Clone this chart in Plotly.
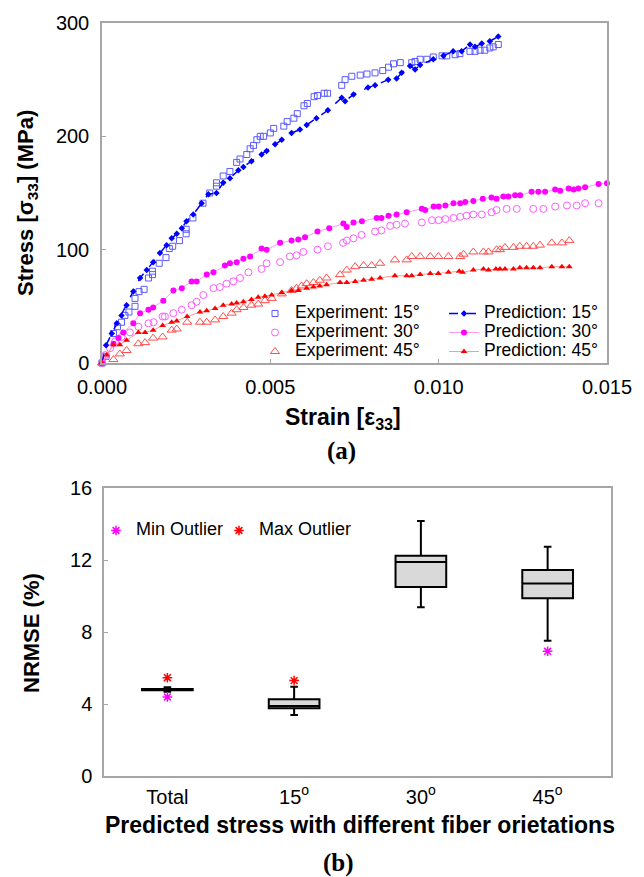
import plotly.graph_objects as go

# ---------------- (a) stress-strain data ----------------
exp15_strain = [0.0, 0.00012, 0.00034, 0.00046, 0.00058, 0.00068, 0.0008, 0.00098, 0.00098, 0.0011, 0.00125,
                0.00138, 0.0015, 0.0015, 0.0017, 0.0019, 0.002, 0.0021, 0.0023, 0.0025, 0.0025, 0.0027, 0.003,
                0.0032, 0.0034, 0.0034, 0.0036, 0.0038, 0.004, 0.0041, 0.0043, 0.0044, 0.0045, 0.0046, 0.0047,
                0.0048, 0.005, 0.0051, 0.0054, 0.0055, 0.0057, 0.0058, 0.006, 0.0061, 0.0063, 0.0064, 0.0066,
                0.0067, 0.00712, 0.00722, 0.00742, 0.00767, 0.00787, 0.00811, 0.00834, 0.00851, 0.00866, 0.00886,
                0.0092, 0.0093, 0.00945, 0.00965, 0.00984, 0.0101, 0.01024, 0.01049, 0.01063, 0.01093, 0.01108,
                0.01123, 0.01137, 0.01152, 0.01162, 0.01177]
exp15_stress = [0, 5.9, 26, 32, 36, 42, 45, 50, 57, 63, 65, 75, 78, 81, 88, 93, 101, 103, 108, 114, 118, 128, 141,
                150, 156, 159, 165, 169, 177, 180, 184, 189, 192, 197, 200, 200, 203, 207, 209, 213, 216, 220, 227,
                229, 235, 236, 238, 238, 245, 250, 253, 254, 255, 256, 258, 261, 264, 265, 265, 266, 268, 268, 270,
                271, 271, 272, 273, 275, 275, 276, 276, 278, 279, 281]

pred15_strain = [0.0, 0.00012, 0.00029, 0.00044, 0.00058, 0.00073, 0.00093, 0.00113, 0.00133, 0.00152, 0.00172,
                 0.00192, 0.00207, 0.00222, 0.00237, 0.00251, 0.00271, 0.00296, 0.00316, 0.0034, 0.0036, 0.0038,
                 0.00405, 0.0042, 0.00444, 0.00474, 0.00489, 0.00514, 0.00534, 0.00563, 0.00588, 0.00608, 0.00637,
                 0.00671, 0.00712, 0.00722, 0.00747, 0.0079, 0.00811, 0.0085, 0.00875, 0.0089, 0.00915, 0.0093,
                 0.00945, 0.00984, 0.01014, 0.01043, 0.01068, 0.01093, 0.01108, 0.01128, 0.01152, 0.01177]
pred15_stress = [0, 15.6, 26, 35, 42, 51, 63, 75, 82, 89, 97, 104, 110, 114, 119, 125, 131, 141, 149, 150, 159, 163,
                 170, 173, 178, 184, 187, 193, 197, 203, 206, 210, 216, 223, 234, 231, 237, 243, 245, 250, 251, 256,
                 262, 259, 263, 268, 271, 275, 275, 281, 279, 282, 284, 288]

exp30_strain = [0.0, 0.0001, 0.00024, 0.00039, 0.00058, 0.00083, 0.00108, 0.00138, 0.00153, 0.0018, 0.00187,
                0.00212, 0.00237, 0.00266, 0.00281, 0.00301, 0.00331, 0.0035, 0.0037, 0.0039, 0.0041, 0.00435,
                0.00474, 0.00489, 0.00529, 0.00558, 0.00578, 0.00598, 0.0064, 0.00671, 0.00716, 0.00727, 0.00747,
                0.00771, 0.00811, 0.0083, 0.00856, 0.00875, 0.009, 0.0095, 0.0098, 0.01, 0.0102, 0.01044, 0.01064,
                0.01083, 0.01103, 0.01128, 0.01157, 0.01172, 0.01202, 0.01232, 0.01281, 0.01311, 0.01346, 0.01381,
                0.0141, 0.01435, 0.01475]
exp30_stress = [0, 7, 13, 19, 23, 27, 32, 35, 36, 41, 41, 44, 47, 51, 54, 60, 66, 67, 70, 72, 75, 80, 83, 88, 89,
                94, 95, 98, 100, 103, 106, 108, 110, 113, 116, 117, 121, 122, 123, 124, 126, 126, 127, 128, 129,
                130, 131, 131, 133, 135, 136, 136, 136, 136, 138, 139, 139, 141, 141]

pred30_strain = [0.0, 0.00034, 0.00049, 0.00063, 0.00093, 0.00113, 0.00138, 0.00152, 0.00182, 0.00212, 0.00237,
                 0.00266, 0.00281, 0.00311, 0.00331, 0.00365, 0.0038, 0.004, 0.0042, 0.0044, 0.00474, 0.00489,
                 0.00529, 0.00563, 0.00583, 0.00603, 0.0064, 0.00675, 0.00717, 0.00727, 0.00747, 0.00772, 0.00816,
                 0.0083, 0.00851, 0.00875, 0.00905, 0.0095, 0.0096, 0.00985, 0.01, 0.0102, 0.01044, 0.01064,
                 0.01079, 0.01103, 0.01131, 0.01157, 0.01172, 0.01192, 0.01207, 0.01227, 0.01242, 0.01276, 0.01296,
                 0.01316, 0.01346, 0.01361, 0.01386, 0.01401, 0.01415, 0.01435, 0.01475, 0.015]
pred30_stress = [0, 17, 22, 27, 35, 44, 47, 49, 55, 64, 66, 72, 72, 78, 80, 86, 88, 89, 92, 94, 101, 100, 106,
                 108, 109, 111, 116, 119, 123, 120, 124, 125, 128, 128, 130, 131, 133, 136, 135, 138, 138, 139,
                 141, 141, 142, 143, 145, 146, 145, 147, 147, 148, 148, 151, 151, 151, 153, 152, 154, 153, 154,
                 155, 158, 158.5]

exp45_strain = [0.0, 0.00034, 0.00053, 0.00073, 0.00108, 0.00128, 0.00152, 0.0018, 0.00207, 0.00222, 0.00253,
                0.00291, 0.00311, 0.00336, 0.0036, 0.00385, 0.004, 0.0042, 0.00444, 0.00464, 0.00484, 0.00504,
                0.00534, 0.00563, 0.00578, 0.00593, 0.00608, 0.00628, 0.00647, 0.00667, 0.00707, 0.00727, 0.00752,
                0.00777, 0.00801, 0.00826, 0.0087, 0.00905, 0.0092, 0.00945, 0.00975, 0.00999, 0.01029, 0.01064,
                0.01074, 0.01103, 0.01133, 0.01148, 0.01172, 0.01182, 0.01197, 0.01222, 0.01241, 0.01261, 0.01281,
                0.01301, 0.01336, 0.01366, 0.01388]
exp45_stress = [0, 3, 8, 11, 17, 18, 22, 23, 29, 30, 36, 36, 36, 38, 41, 44, 47, 49, 51, 52, 55, 57, 61, 64, 66,
                68, 70, 71, 73, 75, 78, 82, 85, 86, 86, 88, 91, 91, 94, 94, 94, 94, 94, 94, 96, 98, 98, 98, 100,
                100, 102, 102, 103, 103, 103, 104, 106, 106, 108]

pred45_strain = [0.0, 0.00014, 0.00034, 0.00053, 0.00073, 0.00108, 0.00128, 0.00152, 0.0018, 0.00207, 0.00222,
                 0.00253, 0.00291, 0.00311, 0.00336, 0.0036, 0.00385, 0.004, 0.0042, 0.00444, 0.00464, 0.00484,
                 0.00504, 0.00534, 0.00563, 0.00583, 0.00608, 0.00628, 0.00647, 0.00667, 0.00707, 0.00727, 0.00752,
                 0.00777, 0.00801, 0.00826, 0.0087, 0.00905, 0.0092, 0.00945, 0.00975, 0.00999, 0.01029, 0.01061,
                 0.01071, 0.01103, 0.01133, 0.01148, 0.0117, 0.01182, 0.01197, 0.01222, 0.01241, 0.01261, 0.01281,
                 0.01301, 0.01336, 0.01366, 0.01388]
pred45_stress = [0, 7, 16, 16, 20, 27, 27, 29, 33, 36, 37, 41, 45, 46, 48, 51, 52, 53, 54, 56, 58, 59, 60, 62, 64,
                 64, 66, 67, 68, 69, 71, 71, 72, 73, 74, 75, 77, 77, 77, 78, 79, 79, 80, 81, 80, 82, 83, 82, 83,
                 83, 83, 83, 84, 84, 84, 84, 85, 85, 85]

# ---------------- (b) NRMSE box data ----------------
categories = ["Total", "15<sup>o</sup>", "30<sup>o</sup>", "45<sup>o</sup>"]
box_lower = [4.68, 3.39, 9.37, 7.52]
box_q1 = [4.76, 3.76, 10.50, 9.87]
box_median = [4.80, 3.89, 11.89, 10.69]
box_q3 = [4.83, 4.26, 12.24, 11.44]
box_upper = [4.93, 4.96, 14.17, 12.74]
min_outlier_cat = ["Total", "45<sup>o</sup>"]
min_outlier_val = [4.39, 6.93]
max_outlier_cat = ["Total", "15<sup>o</sup>"]
max_outlier_val = [5.46, 5.30]

W, H = 644, 877
FONT = "Arial, Liberation Sans, sans-serif"
GRID = "#a6a6a6"


def span(t, size=17.5):
    return f'<span style="font-size:{size}px">{t}</span>'


fig = go.Figure()

# experiments (legend 1)
fig.add_trace(go.Scatter(x=exp15_strain, y=exp15_stress, mode="markers", name=span("Experiment: 15°"),
                         marker=dict(symbol="square-open", size=6, color="#5b5bff", line=dict(width=1)),
                         xaxis="x", yaxis="y", legend="legend", cliponaxis=False))
fig.add_trace(go.Scatter(x=exp30_strain, y=exp30_stress, mode="markers", name=span("Experiment: 30°"),
                         marker=dict(symbol="circle-open", size=7, color="#ff5cff", line=dict(width=1)),
                         xaxis="x", yaxis="y", legend="legend", cliponaxis=False))
fig.add_trace(go.Scatter(x=exp45_strain, y=exp45_stress, mode="markers", name=span("Experiment: 45°"),
                         marker=dict(symbol="triangle-up-open", size=8, color="#ff4d4d", line=dict(width=1)),
                         xaxis="x", yaxis="y", legend="legend", cliponaxis=False))
# predictions (legend 2)
fig.add_trace(go.Scatter(x=pred15_strain, y=pred15_stress, mode="lines+markers", name=span("Prediction: 15°"),
                         line=dict(color="#0000ff", width=1.5, dash="dash"),
                         marker=dict(symbol="diamond", size=5, color="#0000ff"),
                         xaxis="x", yaxis="y", legend="legend2", cliponaxis=False))
fig.add_trace(go.Scatter(x=pred30_strain, y=pred30_stress, mode="lines+markers", name=span("Prediction: 30°"),
                         line=dict(color="#ff80ff", width=0.8),
                         marker=dict(symbol="circle", size=6, color="#ff00ff"),
                         xaxis="x", yaxis="y", legend="legend2", cliponaxis=False))
fig.add_trace(go.Scatter(x=pred45_strain, y=pred45_stress, mode="lines+markers", name=span("Prediction: 45°"),
                         line=dict(color="#ff8080", width=0.8),
                         marker=dict(symbol="triangle-up", size=6, color="#ff0000"),
                         xaxis="x", yaxis="y", legend="legend2", cliponaxis=False))

# boxes
for i, c in enumerate(categories):
    fig.add_trace(go.Box(x=[c], q1=[box_q1[i]], median=[box_median[i]], q3=[box_q3[i]],
                         lowerfence=[box_lower[i]], upperfence=[box_upper[i]],
                         fillcolor="#d9d9d9", line=dict(color="#000000", width=2),
                         width=0.4, whiskerwidth=0.15, boxpoints=False, showlegend=False,
                         xaxis="x2", yaxis="y2"))

fig.add_trace(go.Scatter(x=min_outlier_cat, y=min_outlier_val, mode="markers", name=span("Min Outlier", 18),
                         marker=dict(symbol="asterisk-open", size=8, color="#ff00ff",
                                     line=dict(width=1.5, color="#ff00ff")),
                         xaxis="x2", yaxis="y2", legend="legend3"))
fig.add_trace(go.Scatter(x=max_outlier_cat, y=max_outlier_val, mode="markers", name=span("Max Outlier", 18),
                         marker=dict(symbol="asterisk-open", size=8, color="#ff0000",
                                     line=dict(width=1.5, color="#ff0000")),
                         xaxis="x2", yaxis="y2", legend="legend4"))

axis_common = dict(showline=True, linecolor=GRID, linewidth=1.5, mirror=True, showgrid=False,
                   zeroline=False, ticks="inside", ticklen=4, tickcolor=GRID, tickwidth=1,
                   tickfont=dict(family=FONT, size=20, color="#000000"))


def pxx(v):
    return v / W


def pyy(v):
    return 1 - v / H


legend_common = dict(font=dict(family=FONT, size=11, color="#000000"), bgcolor="rgba(0,0,0,0)",
                     borderwidth=0, xanchor="left", yanchor="top", tracegroupgap=0)

fig.update_layout(
    width=W, height=H, margin=dict(l=0, r=0, t=0, b=0, autoexpand=False),
    paper_bgcolor="white", plot_bgcolor="white",
    xaxis=dict(domain=[pxx(102), pxx(607)], range=[0, 0.015], tickvals=[0, 0.005, 0.01, 0.015],
               tickformat=".3f", anchor="y", ticklabelstandoff=5, **axis_common),
    yaxis=dict(domain=[pyy(363), pyy(23)], range=[0, 300], tickvals=[0, 100, 200, 300],
               anchor="x", ticklabelstandoff=7, **axis_common),
    xaxis2=dict(domain=[pxx(104), pxx(611)], type="category", categoryorder="array",
                categoryarray=categories, range=[-0.5, 3.5], anchor="y2",
                ticklabelstandoff=2, **{**axis_common, "ticks": ""}),
    yaxis2=dict(domain=[pyy(776), pyy(488)], range=[0, 16], tickvals=[0, 4, 8, 12, 16],
                anchor="x2", ticklabelstandoff=6, **axis_common),
    legend=dict(x=pxx(255), y=pyy(299), **legend_common),
    legend2=dict(x=pxx(444), y=pyy(299), **legend_common),
    legend3=dict(x=pxx(96), y=pyy(516), **legend_common),
    legend4=dict(x=pxx(219), y=pyy(516), **legend_common),
    showlegend=True,
)

ann = []
ann.append(dict(text="<b>Stress [σ<sub>33</sub>] (MPa)</b>", x=pxx(27), y=pyy(203), textangle=-90,
                font=dict(family=FONT, size=22, color="#000")))
ann.append(dict(text="<b>Strain [ε<sub>33</sub>]</b>", x=pxx(343), y=pyy(418),
                font=dict(family=FONT, size=23, color="#000")))
ann.append(dict(text="<b>(a)</b>", x=pxx(342), y=pyy(451),
                font=dict(family="Liberation Serif, Times New Roman, serif", size=25, color="#000")))
ann.append(dict(text="<b>NRMSE (%)</b>", x=pxx(31), y=pyy(633), textangle=-90,
                font=dict(family=FONT, size=22, color="#000")))
ann.append(dict(text="<b>Predicted stress with different fiber orietations</b>", x=pxx(360), y=pyy(825),
                font=dict(family=FONT, size=23, color="#000")))
ann.append(dict(text="<b>(b)</b>", x=pxx(338), y=pyy(863),
                font=dict(family="Liberation Serif, Times New Roman, serif", size=25, color="#000")))
for a in ann:
    a.update(xref="paper", yref="paper", showarrow=False, xanchor="center", yanchor="middle")
fig.update_layout(annotations=ann)

fig.write_html("out.html")
